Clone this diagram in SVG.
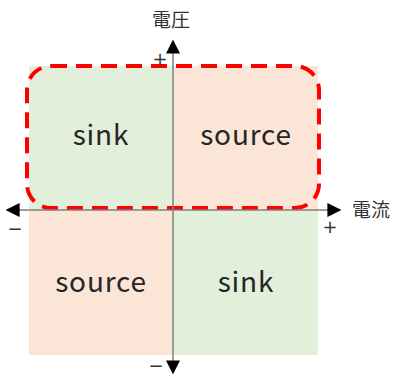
<svg xmlns="http://www.w3.org/2000/svg" width="393" height="374" viewBox="0 0 393 374">
<style>
.g{fill:#E2EFDA}.p{fill:#FBE5D6}
.lbl{font-family:"Noto Sans CJK JP","Noto Sans",sans-serif;font-size:28px;fill:#262626;text-anchor:middle;letter-spacing:0.8px}
.ax{font-family:"Noto Sans CJK JP",sans-serif;font-size:19px;fill:#333}
.sg{font-family:"DejaVu Sans",sans-serif;font-size:18px;fill:#333;text-anchor:middle;dominant-baseline:central}
.axis{stroke:#7f7f7f;stroke-width:1.5;fill:none}
</style>
<defs>
<marker id="ah" viewBox="0 0 10 10" refX="9" refY="5" markerWidth="14" markerHeight="14" markerUnits="userSpaceOnUse" orient="auto-start-reverse">
<path d="M0,0 L10,5 L0,10 z" fill="#000"/>
</marker>
</defs>
<g id="q1"><rect class="g" x="29" y="66" width="144" height="144"/><text class="lbl" x="101" y="145">sink</text></g>
<g id="q2"><rect class="p" x="173" y="66" width="145" height="144"/><text class="lbl" x="246" y="145">source</text></g>
<g id="q3"><rect class="p" x="29" y="210" width="144" height="145"/><text class="lbl" x="101" y="292">source</text></g>
<g id="q4"><rect class="g" x="173" y="210" width="145" height="145"/><text class="lbl" x="246" y="292">sink</text></g>
<g id="region"><rect x="27" y="66" width="292" height="142" rx="24" ry="24" fill="none" stroke="#FF0000" stroke-width="4" stroke-dasharray="16 9"/></g>
<g id="connectors">
<line class="axis" x1="7" y1="210" x2="340" y2="210" marker-start="url(#ah)" marker-end="url(#ah)"/>
<line class="axis" x1="173" y1="373" x2="173" y2="41" marker-start="url(#ah)" marker-end="url(#ah)"/>
</g>
<g id="labels">
<text class="ax" x="171" y="27" text-anchor="middle">電圧</text>
<text class="ax" x="352" y="217">電流</text>
<text class="sg" x="160" y="58">+</text>
<text class="sg" x="330" y="226">+</text>
<text class="sg" x="15" y="228">−</text>
<text class="sg" x="156" y="365">−</text>
</g>
</svg>
